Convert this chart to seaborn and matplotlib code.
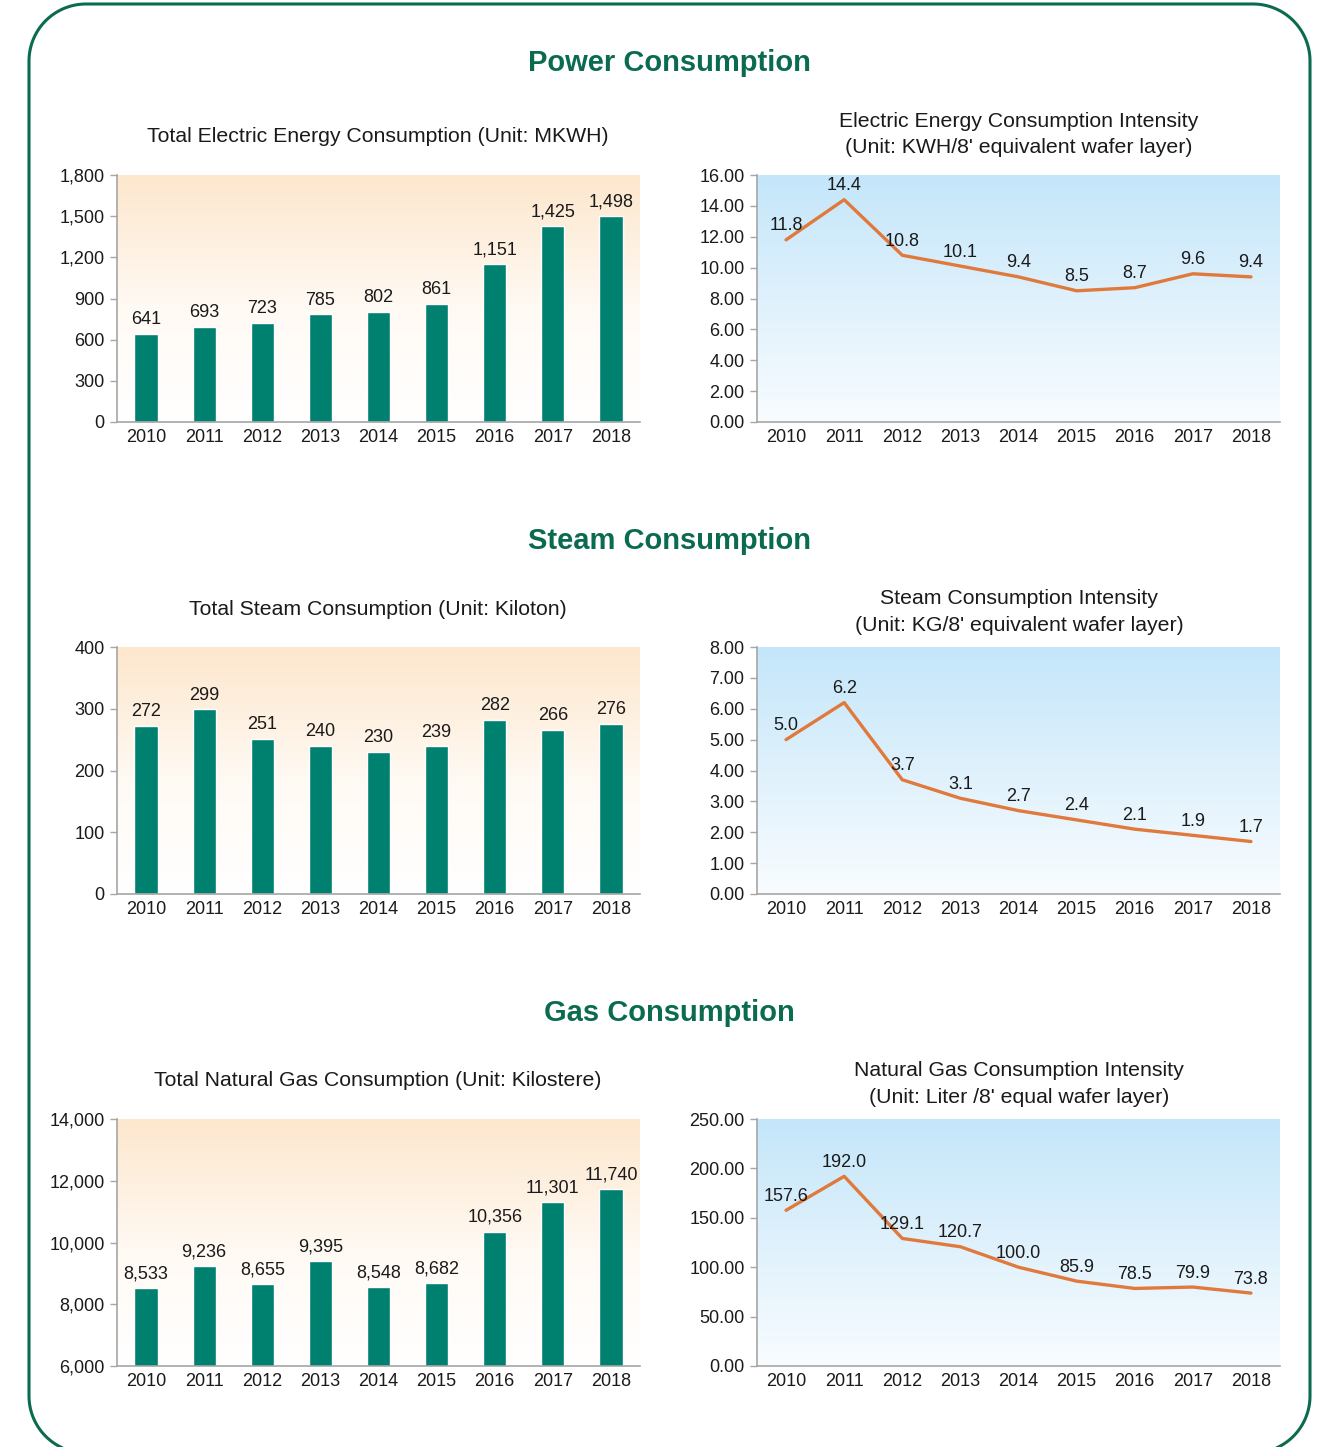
import numpy as np
import pandas as pd
import matplotlib
matplotlib.use("Agg")
import matplotlib.pyplot as plt
from matplotlib.patches import Polygon
from matplotlib.colors import LinearSegmentedColormap
import seaborn as sns

# ---- data ----
years = ["2010", "2011", "2012", "2013", "2014", "2015", "2016", "2017", "2018"]

power_total = [641, 693, 723, 785, 802, 861, 1151, 1425, 1498]
power_intensity = [11.8, 14.4, 10.8, 10.1, 9.4, 8.5, 8.7, 9.6, 9.4]

steam_total = [272, 299, 251, 240, 230, 239, 282, 266, 276]
steam_intensity = [5.0, 6.2, 3.7, 3.1, 2.7, 2.4, 2.1, 1.9, 1.7]

gas_total = [8533, 9236, 8655, 9395, 8548, 8682, 10356, 11301, 11740]
gas_intensity = [157.6, 192.0, 129.1, 120.7, 100.0, 85.9, 78.5, 79.9, 73.8]

section_titles = ["Power Consumption", "Steam Consumption", "Gas Consumption"]
bar_titles = [
    "Total Electric Energy Consumption (Unit: MKWH)",
    "Total Steam Consumption (Unit: Kiloton)",
    "Total Natural Gas Consumption (Unit: Kilostere)",
]
line_titles = [
    "Electric Energy Consumption Intensity\n(Unit: KWH/8' equivalent wafer layer)",
    "Steam Consumption Intensity\n(Unit: KG/8' equivalent wafer layer)",
    "Natural Gas Consumption Intensity\n(Unit: Liter /8' equal wafer layer)",
]

bar_ylims = [(0, 1800), (0, 400), (6000, 14000)]
bar_yticks = [np.arange(0, 1801, 300), np.arange(0, 401, 100), np.arange(6000, 14001, 2000)]
line_ylims = [(0, 16), (0, 8), (0, 250)]
line_yticks = [np.arange(0, 16.1, 2), np.arange(0, 8.1, 1), np.arange(0, 250.1, 50)]

# ---- style ----
sns.set_theme(style="white")
plt.rcParams["font.family"] = ["Liberation Sans", "DejaVu Sans"]

W, H = 1325, 1447
DPI = 100
BAR_COLOR = "#00806f"
LINE_COLOR = "#e07a3c"
GREEN = "#0b6b50"
TEXT = "#1a1a1a"
SPINE = "#a6a6a6"
FS = 13

fig = plt.figure(figsize=(W / DPI, H / DPI), dpi=DPI)
fig.patch.set_facecolor("white")


def rounded_frame(x0, y0, x1, y1, r, n=40):
    """Vertices of a rounded rectangle outline (pixel space)."""
    pts = []
    corners = [
        (x0 + r, y0 + r, 180, 270),  # top-left
        (x1 - r, y0 + r, 270, 360),  # top-right
        (x1 - r, y1 - r, 0, 90),     # bottom-right
        (x0 + r, y1 - r, 90, 180),   # bottom-left
    ]
    for cx, cy, a0, a1 in corners:
        t = np.radians(np.linspace(a0, a1, n))
        pts.append(np.column_stack([cx + r * np.cos(t), cy + r * np.sin(t)]))
    return np.vstack(pts)


# rounded frame around the whole panel, drawn in a pixel-space background axes
bg = fig.add_axes([0, 0, 1, 1], zorder=-10)
bg.set_xlim(0, W)
bg.set_ylim(H, 0)
bg.axis("off")
bg.add_patch(Polygon(rounded_frame(29, 4, 1310, 1453, 57), closed=True, fill=False,
                     edgecolor=GREEN, linewidth=2.2, joinstyle="round"))


def px_axes(x0, y0, x1, y1):
    return fig.add_axes([x0 / W, 1 - y1 / H, (x1 - x0) / W, (y1 - y0) / H])


def fig_xy(x, y):
    return x / W, 1 - y / H


peach = LinearSegmentedColormap.from_list(
    "peach", [(0.0, "#ffffff"), (0.45, "#fffaf4"), (1.0, "#fde7cd")])
sky = LinearSegmentedColormap.from_list(
    "sky", [(0.0, "#f8fcff"), (0.5, "#dff1fc"), (1.0, "#c4e6fa")])


def gradient(ax, cmap):
    grad = np.linspace(0, 1, 256).reshape(-1, 1)
    ax.imshow(grad, extent=[0, 1, 0, 1], transform=ax.transAxes, origin="lower",
              aspect="auto", cmap=cmap, zorder=0, interpolation="bicubic")


def style_axes(ax, ylim, yticks, fmt):
    ax.set_xlim(-0.5, len(years) - 0.5)
    ax.set_ylim(*ylim)
    ax.set_yticks(yticks)
    ax.set_yticklabels([fmt(v) for v in yticks])
    ax.set_xticks(range(len(years)))
    ax.set_xticklabels(years)
    ax.set_xticks(np.arange(-0.5, len(years), 1.0), minor=True)
    ax.tick_params(axis="x", which="major", length=0, pad=5, labelsize=FS, labelcolor=TEXT)
    ax.tick_params(axis="x", which="minor", length=6, width=1, color=SPINE, direction="out")
    ax.tick_params(axis="y", which="major", length=5, width=1, color=SPINE, direction="out",
                   pad=4, labelsize=FS, labelcolor=TEXT, left=True)
    for side in ("top", "right"):
        ax.spines[side].set_visible(False)
    for side in ("left", "bottom"):
        ax.spines[side].set_color(SPINE)
        ax.spines[side].set_linewidth(1.2)
    ax.set_xlabel("")
    ax.set_ylabel("")
    ax.grid(False)
    ax.set_facecolor("none")


rows = [
    (power_total, power_intensity, 63, 175, 137, 134.5),
    (steam_total, steam_intensity, 541, 647, 609, 612),
    (gas_total, gas_intensity, 1013, 1119, 1081, 1084),
]

for i, (tot, inten, sec_y, top, bt_y, lt_y) in enumerate(rows):
    bottom = top + 247

    fig.text(*fig_xy(669, sec_y), section_titles[i], ha="center", va="center",
             fontsize=21, fontweight="bold", color=GREEN)

    # totals: bars
    axb = px_axes(117, top, 640, bottom)
    gradient(axb, peach)
    dfb = pd.DataFrame({"year": years, "value": tot})
    sns.barplot(data=dfb, x="year", y="value", ax=axb, color=BAR_COLOR,
                saturation=1, width=0.4, zorder=2)
    style_axes(axb, bar_ylims[i], bar_yticks[i], lambda v: f"{int(v):,}")
    for k, v in enumerate(tot):
        axb.annotate(f"{v:,}", (k, v), xytext=(0, 4), textcoords="offset points",
                     ha="center", va="bottom", fontsize=FS, color=TEXT, zorder=3)
    fig.text(*fig_xy(378, bt_y), bar_titles[i], ha="center", va="center",
             fontsize=15.3, color=TEXT)

    # intensity: line
    axl = px_axes(757, top, 1280, bottom)
    gradient(axl, sky)
    dfl = pd.DataFrame({"pos": np.arange(len(years)), "value": inten})
    sns.lineplot(data=dfl, x="pos", y="value", ax=axl, color=LINE_COLOR,
                 linewidth=2.4, zorder=2)
    style_axes(axl, line_ylims[i], line_yticks[i], lambda v: f"{v:.2f}")
    for k, v in enumerate(inten):
        axl.annotate(f"{v:.1f}", (k, v), xytext=(0, 4), textcoords="offset points",
                     ha="center", va="bottom", fontsize=FS, color=TEXT, zorder=3)
    fig.text(*fig_xy(1019, lt_y), line_titles[i], ha="center", va="center",
             fontsize=15.3, color=TEXT, linespacing=1.5)

fig.savefig("out.png", dpi=DPI, facecolor="white")
